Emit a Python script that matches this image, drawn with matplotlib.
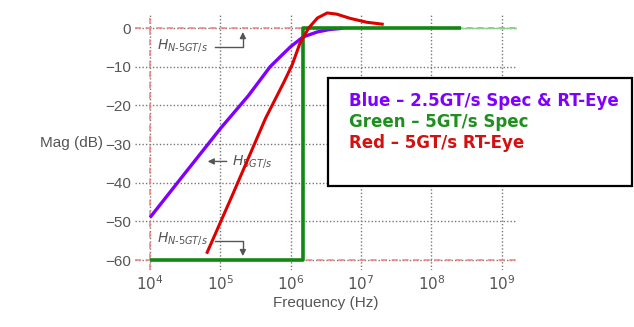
import numpy as np
import matplotlib
matplotlib.use("Agg")
import matplotlib.pyplot as plt
from matplotlib.patches import Rectangle

# Data (frequency in Hz, magnitude in dB)
blue_freq = [1e4, 3e4, 1e5, 2.5e5, 5.1e5, 7.5e5, 1e6, 1.5e6, 2.4e6, 3.5e6, 5.5e6]
blue_mag = [-49, -38, -26, -17.5, -10, -7, -4.8, -2.3, -1.0, -0.4, -0.05]

red_freq = [6.5e4, 1.5e5, 4.4e5, 8e5, 1.05e6, 1.35e6, 1.8e6, 2.4e6, 3.3e6, 4.5e6, 7e6, 1.2e7, 2e7]
red_mag = [-58, -43, -23.3, -14, -9.5, -4.0, 0.0, 2.6, 3.9, 3.6, 2.5, 1.5, 1.0]

green_freq = [1e4, 1.5e6, 1.5e6, 2.6e8]
green_mag = [-60, -60, 0, 0]
green_ext_freq = [2.6e8, 1.65e9]
green_ext_mag = [0, 0]

y_ticks = [0, -10, -20, -30, -40, -50, -60]
x_ticks = [1e4, 1e5, 1e6, 1e7, 1e8, 1e9]
x_labels = [r"$10^{4}$", r"$10^{5}$", r"$10^{6}$", r"$10^{7}$", r"$10^{8}$", r"$10^{9}$"]

legend_lines = ["Blue \u2013 2.5GT/s Spec & RT-Eye", "Green \u2013 5GT/s Spec", "Red \u2013 5GT/s RT-Eye"]
legend_colors = ["#8000ff", "#1f8f1f", "#d41010"]

gray = "#555555"

fig = plt.figure(figsize=(6.34, 3.27), dpi=100)
ax = fig.add_axes([0.213, 0.174, 0.602, 0.780])
ax.set_xscale("log")
ax.set_xlim(10 ** 3.787, 10 ** 9.213)
ax.set_ylim(-62.6, 3.36)

for s in ax.spines.values():
    s.set_visible(False)

ax.set_xticks(x_ticks)
ax.set_xticklabels(x_labels)
ax.xaxis.set_minor_locator(matplotlib.ticker.NullLocator())
ax.set_yticks(y_ticks)
ax.tick_params(length=0, colors=gray, labelsize=11, pad=3)
for lab in ax.get_yticklabels() + ax.get_xticklabels():
    lab.set_fontfamily("Liberation Sans")

ax.grid(True, color="#777777", linestyle=(0, (1, 1.5)), linewidth=1.0)

# pink dashed reference lines
ax.axvline(1e4, color="#f08080", linestyle=(0, (4, 3)), lw=1.1, zorder=2)
ax.axhline(0, color="#f08080", linestyle=(0, (4, 3)), lw=1.1, zorder=2)
ax.axhline(-60, color="#f08080", linestyle=(0, (4, 3)), lw=1.1, zorder=2)

ax.plot(green_ext_freq, green_ext_mag, color="#8fd08f", lw=1.0, zorder=3)
ax.plot(blue_freq, blue_mag, color="#8000ff", lw=2.4, zorder=4, solid_capstyle="butt")
ax.plot(green_freq, green_mag, color="#118811", lw=2.6, zorder=5, solid_capstyle="butt")
ax.plot(red_freq, red_mag, color="#dd0000", lw=2.2, zorder=6, clip_on=False)

ax.set_xlabel("Frequency (Hz)", color=gray, fontsize=11, family="Liberation Sans", labelpad=2)
ax.set_ylabel("Mag (dB)", color=gray, fontsize=11, family="Liberation Sans",
              rotation=0, labelpad=24, va="center")

# annotations
arrow_kw = dict(arrowstyle="-|>", color=gray, lw=1.0, mutation_scale=9)
ax.text(10 ** 4.1, -4.5, r"$H_{N\text{-}5GT/s}$", color=gray, fontsize=10, va="center")
ax.plot([10 ** 4.92, 10 ** 5.32, 10 ** 5.32], [-4.8, -4.8, -2.8], color=gray, lw=1.0)
ax.annotate("", xy=(10 ** 5.32, -0.3), xytext=(10 ** 5.32, -3.0), arrowprops=arrow_kw)

ax.text(10 ** 5.16, -34.5, r"$H_{5GT/s}$", color=gray, fontsize=10, va="center")
ax.annotate("", xy=(10 ** 4.78, -34.5), xytext=(10 ** 5.13, -34.5), arrowprops=arrow_kw)

ax.text(10 ** 4.1, -54.5, r"$H_{N\text{-}5GT/s}$", color=gray, fontsize=10, va="center")
ax.plot([10 ** 4.92, 10 ** 5.32, 10 ** 5.32], [-55.0, -55.0, -57.0], color=gray, lw=1.0)
ax.annotate("", xy=(10 ** 5.32, -59.7), xytext=(10 ** 5.32, -57.0), arrowprops=arrow_kw)

# legend box
fig.patches.append(Rectangle((0.517, 0.431), 0.48, 0.330, transform=fig.transFigure,
                             facecolor="white", edgecolor="black", lw=1.6, zorder=10))
for i, (t, c) in enumerate(zip(legend_lines, legend_colors)):
    fig.text(0.550, 0.691 - i * 0.064, t, color=c, fontsize=12, fontweight="bold",
             family="DejaVu Sans", va="center", zorder=11)

fig.savefig("out.png", dpi=100)
